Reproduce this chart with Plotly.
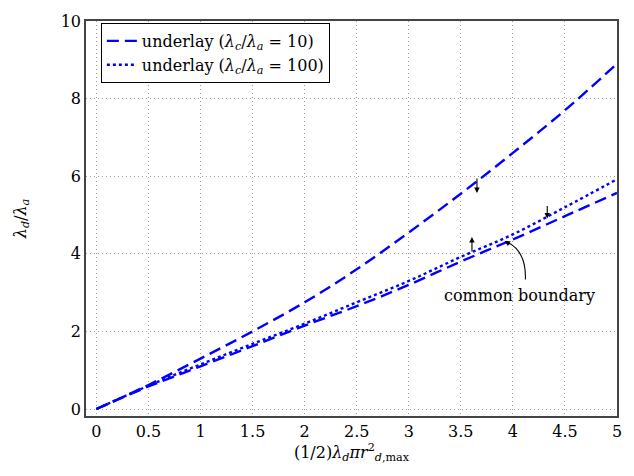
import plotly.graph_objects as go

# Normalised distance parameter (1/2) λ_d π r²_{d,max}
x_vals = [0, 0.5, 1, 1.5, 2, 2.5, 3, 3.5, 4, 4.5, 5]

# λ_d / λ_a for the underlay cases
underlay_10 = [0, 0.62, 1.3, 2.0, 2.75, 3.6, 4.55, 5.55, 6.6, 7.7, 8.9]
underlay_100 = [0, 0.6, 1.15, 1.68, 2.2, 2.75, 3.3, 3.92, 4.5, 5.2, 5.92]
common_boundary = [0, 0.58, 1.1, 1.62, 2.15, 2.65, 3.2, 3.8, 4.37, 4.97, 5.57]

x_ticks = [0, 0.5, 1, 1.5, 2, 2.5, 3, 3.5, 4, 4.5, 5]
x_tick_text = ["0", "0.5", "1", "1.5", "2", "2.5", "3", "3.5", "4", "4.5", "5"]
y_ticks = [0, 2, 4, 6, 8, 10]

SERIF = "'DejaVu Serif', serif"
FS = 16
BLUE = "#0000ff"
DASHED = "12px,6px"
DOTTED = "3px,3px"
GRID_DASH = "1.2px,2.8px"

fig = go.Figure()
fig.add_trace(go.Scatter(
    x=x_vals, y=underlay_10, mode="lines", line_shape="spline",
    name="underlay (<i>λ<sub>c</sub></i>/<i>λ<sub>a</sub></i> = 10)",
    line=dict(color=BLUE, width=2.4, dash=DASHED),
))
fig.add_trace(go.Scatter(
    x=x_vals, y=underlay_100, mode="lines", line_shape="spline",
    name="underlay (<i>λ<sub>c</sub></i>/<i>λ<sub>a</sub></i> = 100)",
    line=dict(color=BLUE, width=2.4, dash=DOTTED),
))
fig.add_trace(go.Scatter(
    x=x_vals, y=common_boundary, mode="lines", line_shape="spline",
    showlegend=False,
    line=dict(color=BLUE, width=2.4, dash=DASHED),
))

# Short arrows marking the feasible side of each boundary
arrows = [
    (3.655, 5.57, -16),
    (3.607, 4.43, 16),
    (4.33, 4.91, -14),
]
for ax_x, tip_y, off in arrows:
    fig.add_annotation(
        x=ax_x, y=tip_y, ax=0, ay=off, text="", showarrow=True,
        arrowhead=2, arrowsize=1, arrowwidth=1.1, arrowcolor="black",
        xref="x", yref="y",
    )

# Curved pointer to the shared boundary
fig.add_shape(
    type="path", xref="x", yref="y",
    path="M 4.12,3.34 Q 4.13,4.05 3.95,4.30",
    line=dict(color="black", width=1.1),
)
fig.add_annotation(
    x=3.92, y=4.33, ax=7, ay=4, text="", showarrow=True,
    arrowhead=2, arrowsize=1, arrowwidth=1.1, arrowcolor="black",
    xref="x", yref="y",
)
fig.add_annotation(
    x=4.065, y=2.93, text="common boundary", showarrow=False,
    font=dict(family=SERIF, size=FS, color="black"),
)

fig.update_layout(
    width=634, height=476,
    margin=dict(l=86, r=13, t=14, b=60),
    paper_bgcolor="white", plot_bgcolor="white",
    font=dict(family=SERIF, size=FS, color="black"),
    legend=dict(
        x=0.028, y=0.995, xanchor="left", yanchor="top",
        bgcolor="white", bordercolor="black", borderwidth=1,
        font=dict(family=SERIF, size=FS), tracegroupgap=0,
    ),
)
fig.update_xaxes(
    range=[-0.1, 5], tickvals=x_ticks, ticktext=x_tick_text,
    showgrid=True, gridcolor="#a0a0a0", griddash=GRID_DASH, gridwidth=1,
    zeroline=False, showline=True, linecolor="#444444", linewidth=1.5,
    mirror=True, ticks="", tickfont=dict(family=SERIF, size=FS),
    title=dict(text="(1/2)<i>λ<sub>d</sub>πr</i><sup>2</sup><sub><i>d</i>,max</sub>",
               font=dict(family=SERIF, size=FS), standoff=4),
)
fig.update_yaxes(
    range=[-0.18, 10], tickvals=y_ticks,
    showgrid=True, gridcolor="#a0a0a0", griddash=GRID_DASH, gridwidth=1,
    zeroline=False, showline=True, linecolor="#444444", linewidth=1.5,
    mirror=True, ticks="", tickfont=dict(family=SERIF, size=FS),
    title=dict(text="<i>λ<sub>d</sub></i>/<i>λ<sub>a</sub></i>",
               font=dict(family=SERIF, size=FS), standoff=30),
)

fig.write_html("out.html")
